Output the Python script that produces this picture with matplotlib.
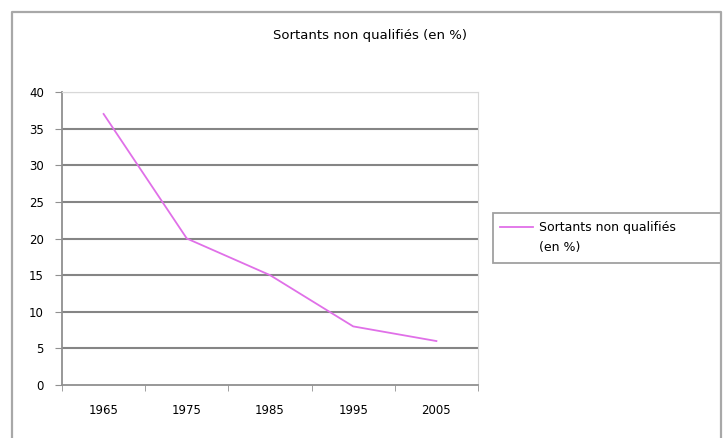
import matplotlib
matplotlib.use('Agg')
import matplotlib.pyplot as plt
import matplotlib.patches as mpatches
import numpy as np

years = ['1965', '1975', '1985', '1995', '2005']
sortants = [37, 20, 15, 8, 6]
y_ticks = [0, 5, 10, 15, 20, 25, 30, 35, 40]

label = "Sortants non qualifiés (en %)"

fig = plt.figure(figsize=(7.24, 4.38), dpi=100)
fig.patch.set_facecolor('white')

# outer chart frame (bottom edge runs off the image)
fig.add_artist(plt.Line2D([12 / 724, 12 / 724, 721 / 724, 721 / 724],
                          [-0.05, 1 - 12 / 438, 1 - 12 / 438, -0.05],
                          transform=fig.transFigure, color='#a8a8a8', linewidth=1.6))

# plot area: x 62..478, y 92..385 in pixels
ax = fig.add_axes([62 / 724, 1 - 385 / 438, 416 / 724, 293 / 438])
x = np.arange(len(years))
ax.plot(x, sortants, color='#e070e8', linewidth=1.3)

ax.set_xlim(-0.5, len(years) - 0.5)
ax.set_ylim(0, 40)
ax.set_yticks(y_ticks)
ax.set_yticklabels([str(v) for v in y_ticks], fontsize=8.5)
ax.set_xticks(x)
ax.set_xticklabels(years, fontsize=8.5)
ax.tick_params(axis='x', length=0, pad=14)
ax.set_xticks(np.arange(len(years) + 1) - 0.5, minor=True)
ax.tick_params(axis='x', which='minor', length=4, color='#909090', direction='out')
ax.tick_params(axis='y', length=5, color='#909090', pad=8)

for v in y_ticks[1:]:
    ax.axhline(v, color='#858585', linewidth=1.5, zorder=0)

for side in ['top', 'right']:
    ax.spines[side].set_color('#d8d8d8')
for side in ['left', 'bottom']:
    ax.spines[side].set_color('#909090')
    ax.spines[side].set_linewidth(1.3)

fig.text(370 / 724, 1 - 35 / 438, label, ha='center', va='center', fontsize=9.5)

# legend box
fig.add_artist(mpatches.Rectangle((493 / 724, 1 - 263 / 438), 228 / 724, 50 / 438,
                                  transform=fig.transFigure, fill=False,
                                  edgecolor='#a0a0a0', linewidth=1.3))
fig.add_artist(plt.Line2D([500 / 724, 533 / 724], [1 - 227 / 438, 1 - 227 / 438],
                          transform=fig.transFigure, color='#e070e8', linewidth=1.3))
fig.text(539 / 724, 1 - 227 / 438, "Sortants non qualifiés", ha='left', va='center', fontsize=9)
fig.text(539 / 724, 1 - 248 / 438, "(en %)", ha='left', va='center', fontsize=9)

plt.savefig('out.png', dpi=100)
plt.close()
